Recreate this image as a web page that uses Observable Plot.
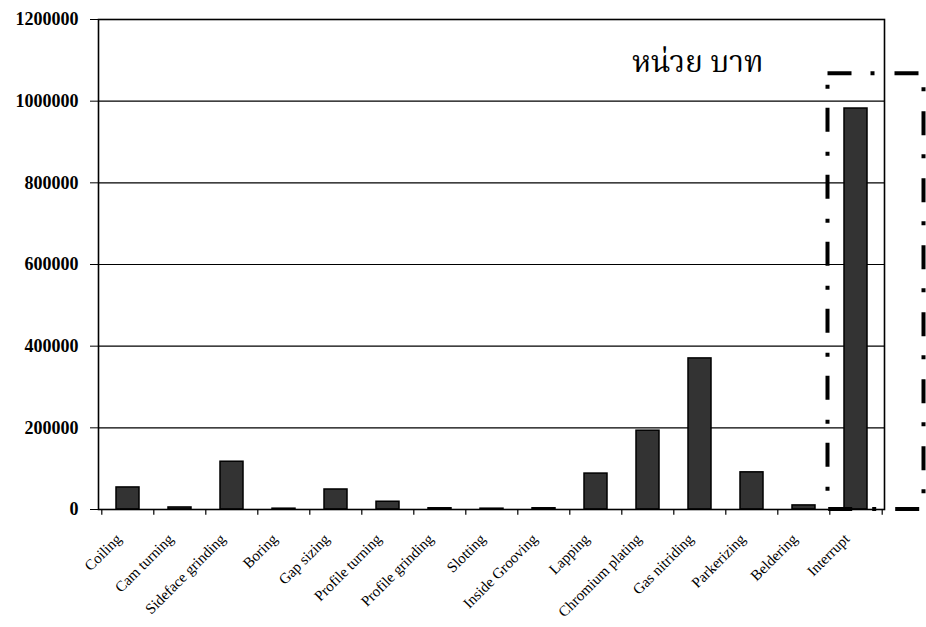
<!DOCTYPE html>
<html>
<head>
<meta charset="utf-8">
<script src="https://cdn.jsdelivr.net/npm/d3@7"></script>
<script src="https://cdn.jsdelivr.net/npm/@observablehq/plot@0.6"></script>
<style>
  html, body { margin: 0; padding: 0; background: #fff; }
  #chart svg { display: block; }
</style>
</head>
<body>
<div id="chart"></div>
<script>
const categories = ["Coiling","Cam turning","Sideface grinding","Boring","Gap sizing","Profile turning","Profile grinding","Slotting","Inside Grooving","Lapping","Chromium plating","Gas nitriding","Parkerizing","Beldering","Interrupt"];
const values = [54000, 5000, 117000, 2000, 49000, 19000, 3000, 2000, 3000, 88000, 193000, 370000, 91000, 10000, 982000];
const yTicks = [0, 200000, 400000, 600000, 800000, 1000000, 1200000];
const unitLabel = "หน่วย บาท";
const unitLabelCategory = "Chromium plating";
const unitLabelValue = 1100000;
const highlightCategory = "Interrupt";
const highlightTop = 1067000;

const W = 926, H = 627;
const mL = 98, mR = 42, mT = 19, mB = 118;
const step = (W - mL - mR) / categories.length;

const data = categories.map((c, i) => ({c, v: values[i]}));

const chart = Plot.plot({
  width: W,
  height: H,
  marginLeft: mL,
  marginRight: mR,
  marginTop: mT,
  marginBottom: mB,
  style: {fontFamily: "'Liberation Serif', 'Times New Roman', serif", background: "white", overflow: "visible"},
  x: {domain: categories, paddingInner: 0.56, paddingOuter: 0.28, label: null},
  y: {domain: [0, 1200000], label: null},
  marks: [
    Plot.gridY(yTicks, {stroke: "black", strokeOpacity: 1, strokeWidth: 1.2}),
    Plot.barY(data, {x: "c", y: "v", fill: "#333333", stroke: "black", strokeWidth: 1.5}),
    Plot.frame({stroke: "black", strokeWidth: 1.6}),
    Plot.axisY({ticks: yTicks, tickSize: 8, tickPadding: 12, tickFormat: d => String(d), fontSize: 18, fontWeight: "bold", stroke: "black", label: null}),
    Plot.axisX({tickSize: 0, tickRotate: -45, tickPadding: 27, dx: -9, fontSize: 15, label: null}),
    Plot.ruleX(categories, {x: d => d, y1: 0, y2: -14000, dx: -step / 2, stroke: "black", strokeWidth: 1.2}),
    Plot.ruleX([categories[categories.length - 1]], {x: d => d, y1: 0, y2: -14000, dx: step / 2, stroke: "black", strokeWidth: 1.2}),
    Plot.barY([{c: highlightCategory, v: highlightTop}], {x: "c", y1: 0, y2: "v", fill: "none", stroke: "black", strokeWidth: 4, strokeDasharray: "24,19,4,20", insetLeft: -16.5, insetRight: -56.5}),
    Plot.text([unitLabel], {x: () => unitLabelCategory, y: () => unitLabelValue, text: d => d, textAnchor: "start", dx: -16, dy: 2, fontSize: 30, fill: "black", fontFamily: "'Norasi', 'Noto Serif Thai', 'Noto Sans Thai', 'Loma', 'Garuda', 'Tlwg Typo', 'DejaVu Sans', serif"})
  ]
});
document.getElementById("chart").appendChild(chart);
</script>
</body>
</html>
